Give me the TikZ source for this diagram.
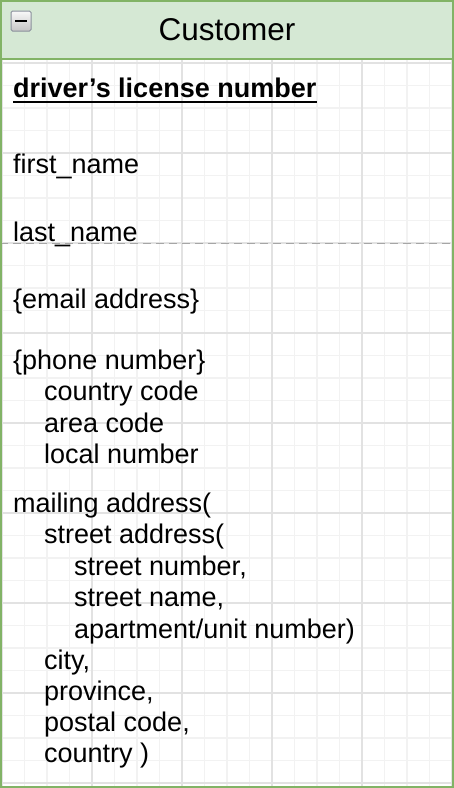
\documentclass[tikz,border=0pt]{standalone}
\usepackage{fontspec}
\setmainfont{Liberation Sans}
\definecolor{hdrfill}{HTML}{D5E8D4}
\definecolor{hdrline}{HTML}{82B366}
\definecolor{minorgrid}{HTML}{F2F2F2}
\definecolor{majorgrid}{HTML}{E2E2E2}
\definecolor{iconedge}{HTML}{8A909C}
\begin{document}
\begin{tikzpicture}[x=1pt,y=-1pt,
  attr/.style={anchor=base west, inner sep=0pt, text=black, font=\fontsize{27}{31}\selectfont},
  keyattr/.style={attr, font=\fontsize{27}{31}\selectfont\bfseries},
  title/.style={inner sep=0pt, text=black, font=\fontsize{31.5}{36}\selectfont},
  mingrid/.style={draw=minorgrid, line width=1.2pt},
  majgrid/.style={draw=majorgrid, line width=1.4pt},
  guide/.style={draw=black!35, line width=1pt, dash pattern=on 8pt off 5pt}]
\useasboundingbox (0,0) rectangle (454,788);
\fill[white] (0,0) rectangle (454,788);
% grid
\foreach \i in {0,...,20} {
  \pgfmathsetmacro{\xx}{2+22.5*\i}
  \draw[mingrid] (\xx,60) -- (\xx,786);
}
\foreach \i in {0,...,32} {
  \pgfmathsetmacro{\yy}{63+22.5*\i}
  \draw[mingrid] (1,\yy) -- (453,\yy);
}
\foreach \i in {0,...,5} {
  \pgfmathsetmacro{\xx}{2+90*\i}
  \draw[majgrid] (\xx,60) -- (\xx,786);
}
\foreach \i in {0,...,8} {
  \pgfmathsetmacro{\yy}{63+90*\i}
  \draw[majgrid] (1,\yy) -- (453,\yy);
}
% guide
\coordinate (gl) at (0,243);
\coordinate (gr) at (454,243);
\draw[guide] (gl) -- (gr);
% header
\fill[hdrfill] (1,1) rectangle (453,59);
\draw[hdrline, line width=2pt] (1,59) -- (453,59);
\draw[hdrline, line width=2pt] (1,1) rectangle (453,787);
\node[title] (customer) at (227,30) {Customer};
% collapse icon
\shade[top color=white!95!gray, bottom color=gray!45, draw=iconedge, line width=1pt, rounded corners=1.5pt] (11,11) rectangle (31,31);
\fill[black] (15,19.5) rectangle (27,22);
% attributes
\node[keyattr] (pk) at (13,97) {driver’s license number};
\draw[black, line width=2pt] ([yshift=-4.7pt]pk.base west) -- ([yshift=-4.7pt]pk.base east);
\node[attr] (fn) at (13,173) {first\_name};
\node[attr] (ln) at (13,241.5) {last\_name};
\node[attr] (em) at (13,308) {\{email address\}};
\node[attr] (ph) at (13,369) {\{phone number\}};
\node[attr] (cc) at (44,400.5) {country code};
\node[attr] (ac) at (44,432) {area code};
\node[attr] (lo) at (44,463) {local number};
\node[attr] (ma) at (13,512) {mailing address(};
\node[attr] (sa) at (44,543.5) {street address(};
\node[attr] (sn) at (74,575) {street number,};
\node[attr] (sm) at (74,606.5) {street name,};
\node[attr] (ap) at (74,638) {apartment/unit number)};
\node[attr] (ci) at (44,669) {city,};
\node[attr] (pr) at (44,700) {province,};
\node[attr] (pc) at (44,731.5) {postal code,};
\node[attr] (co) at (44,762) {country )};
\end{tikzpicture}
\end{document}
